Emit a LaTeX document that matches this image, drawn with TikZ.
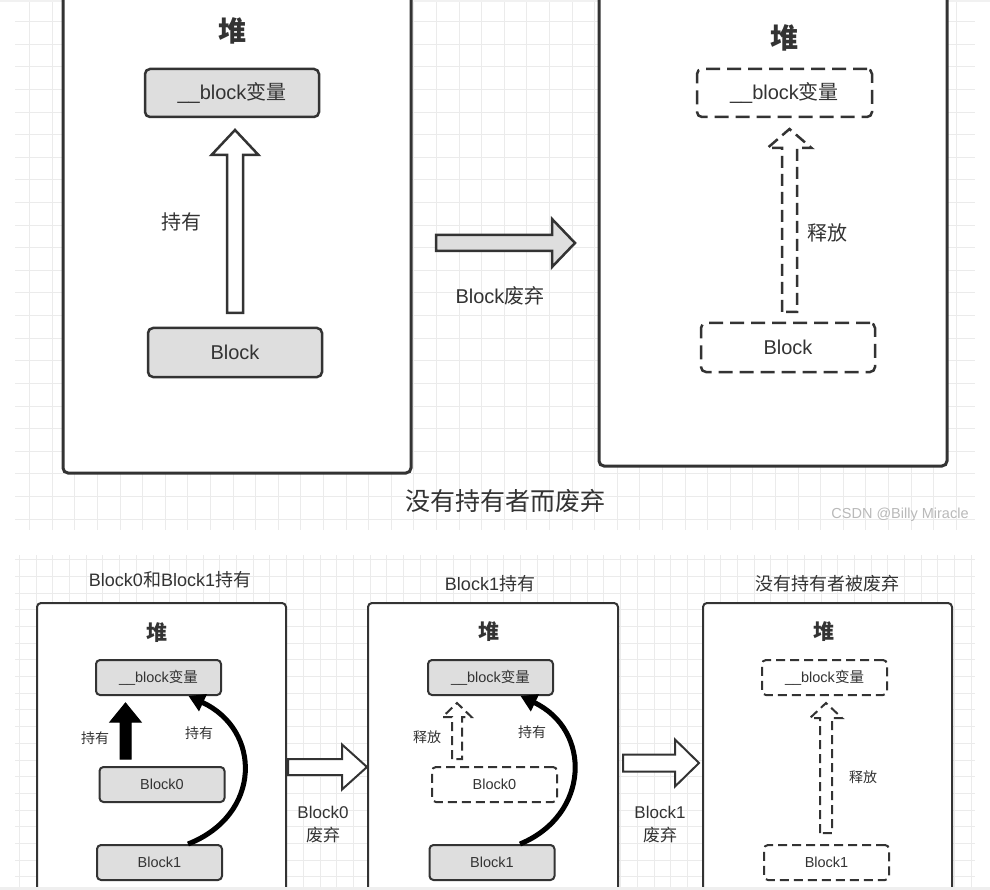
\documentclass[tikz,border=0pt]{standalone}
\usepackage{fontspec}
\setmainfont{Liberation Sans}
\newfontfamily\cjk{Noto Sans CJK SC}
\usetikzlibrary{arrows.meta}
\definecolor{ink}{HTML}{333333}
\definecolor{boxfill}{HTML}{DEDEDE}
\definecolor{gridc}{HTML}{EBEBEB}
\newcommand\zh[1]{{\cjk #1}}
\newcommand\fsz[1]{\fontsize{#1}{#1}\selectfont}
\newcommand\myuparr[7]{\draw[#1] ({#2-#6},#3) -- ({#2-#6},#4) -- ({#2-#7},#4) -- (#2,#5) -- ({#2+#7},#4) -- ({#2+#6},#4) -- ({#2+#6},#3) -- cycle;}
\newcommand\myrightarr[7]{\draw[#1] (#2,{#5-#6}) -- (#3,{#5-#6}) -- (#3,{#5-#7}) -- (#4,#5) -- (#3,{#5+#7}) -- (#3,{#5+#6}) -- (#2,{#5+#6}) -- cycle;}
\begin{document}
\begin{tikzpicture}[x=1pt,y=-1pt,
  box/.style={draw=ink, fill=boxfill, rounded corners=5pt, line width=2.5pt, text=ink, inner sep=0pt, font=\fsz{20}},
  dbox/.style={box, fill=white, dash pattern=on 14pt off 7pt},
  sbox/.style={draw=ink, fill=boxfill, rounded corners=4pt, line width=2pt, text=ink, inner sep=0pt, minimum width=125pt, minimum height=35pt, font=\fsz{14.5}},
  sdbox/.style={sbox, fill=white, dash pattern=on 9pt off 5pt},
  lbl/.style={text=ink, inner sep=0pt},
  heap/.style={lbl, font=\cjk\bfseries\fsz{#1}},
  heapframe/.style={draw=ink, fill=white, rounded corners=#1},
  gridline/.style={draw=gridc, line width=1pt},
]
\useasboundingbox (0,0) rectangle (990,890);
\fill[white] (0,0) rectangle (990,890);
% grids
\foreach \k in {1,...,42} \draw[gridline] ({7+22.6*\k},0) -- ({7+22.6*\k},530);
\foreach \k in {1,...,23} \draw[gridline] (15,{-0.8+22.6*\k}) -- (975,{-0.8+22.6*\k});
\foreach \k in {0,...,57} \draw[gridline] ({19.4+16.7*\k},555) -- ({19.4+16.7*\k},887);
\foreach \k in {0,...,19} \draw[gridline] (15,{559.6+16.7*\k}) -- (975,{559.6+16.7*\k});
\fill[gridc!70] (0,0) rectangle (990,2.5);

% ---------- top ----------
\filldraw[heapframe=5pt, line width=3pt] (63,-5) -- (63,473) -- (411,473) -- (411,-5);
\filldraw[heapframe=5pt, line width=3pt] (599,-5) -- (599,466) -- (947,466) -- (947,-5);

\node[heap=28] (heapA) at (232,31) {堆};
\node[box, minimum width=174pt, minimum height=48pt] (varA) at (232,93) {\_\_block\zh{变量}};
\node[box, minimum width=174pt, minimum height=49pt] (blkA) at (235,352.5) {Block};
\myuparr{draw=ink, fill=white, line width=2.5pt}{235}{313}{155}{130}{8}{23.5}
\node[lbl, font=\cjk\fsz{20}] (holdA) at (181,222) {持有};

\myrightarr{draw=ink, fill=boxfill, line width=2.5pt}{436}{552}{575}{243}{8}{24}
\node[lbl, font=\fsz{20}] (abandon) at (500,296) {Block\zh{废弃}};

\node[heap=28] (heapB) at (784,38) {堆};
\node[dbox, minimum width=175pt, minimum height=48pt] (varB) at (784.5,93) {\_\_block\zh{变量}};
\node[dbox, minimum width=174pt, minimum height=49pt] (blkB) at (788,347.5) {Block};
\myuparr{draw=ink, fill=white, line width=2.5pt, dash pattern=on 12pt off 6pt}{789.5}{312}{148}{129}{7.5}{22}
\node[lbl, font=\cjk\fsz{20}] (relB) at (827,233) {释放};

\node[lbl, font=\cjk\fsz{25}] (captionTop) at (505,501) {没有持有者而废弃};
\node[text=gray!55, inner sep=0pt, font=\fsz{14.5}] (wm) at (900,515) {CSDN @Billy Miracle};

% ---------- bottom ----------
\filldraw[heapframe=4pt, line width=2pt] (37,892) -- (37,603) -- (286,603) -- (286,892);
\filldraw[heapframe=4pt, line width=2pt] (368,892) -- (368,603) -- (618,603) -- (618,892);
\filldraw[heapframe=4pt, line width=2pt] (703,892) -- (703,603) -- (952,603) -- (952,892);

\node[lbl, font=\fsz{18}] (t1) at (170,580) {Block0\zh{和}Block1\zh{持有}};
\node[lbl, font=\fsz{18}] (t2) at (490,584) {Block1\zh{持有}};
\node[lbl, font=\cjk\fsz{18}] (t3) at (827,584) {没有持有者被废弃};

\node[heap=21] (h1) at (157,633) {堆};
\node[heap=21] (h2) at (489,632) {堆};
\node[heap=21] (h3) at (824,632) {堆};

% panel 1
\node[sbox] (v1) at (158.5,677.5) {\_\_block\zh{变量}};
\node[sbox] (b01) at (162,784.5) {Block0};
\node[sbox] (b11) at (159.5,862.5) {Block1};
\myuparr{draw=black, fill=black, line width=1pt}{125.5}{759}{722}{703}{5.5}{15.5}
\node[lbl, font=\cjk\fsz{14}] (p1a) at (95,738) {持有};
\node[lbl, font=\cjk\fsz{14}] (p1b) at (199,733) {持有};
\draw[black, line width=5pt, -{Triangle[length=16pt,width=18pt]}] ([xshift=28.5pt]b11.north) .. controls (262,815) and (262,730) .. ([xshift=30pt]v1.south);

\myrightarr{draw=ink, fill=white, line width=2pt}{288}{342}{367}{767}{8}{22.5}
\node[lbl, font=\fsz{17}] (a1a) at (323,812) {Block0};
\node[lbl, font=\cjk\fsz{17}] (a1b) at (323,835) {废弃};

% panel 2
\node[sbox] (v2) at (490.5,677.5) {\_\_block\zh{变量}};
\node[sdbox] (b02) at (494.5,784.5) {Block0};
\node[sbox] (b12) at (492,862.5) {Block1};
\myuparr{draw=ink, fill=white, line width=2pt, dash pattern=on 9pt off 5pt}{457}{759}{717}{703}{5}{14.5}
\node[lbl, font=\cjk\fsz{14}] (p2a) at (427,737) {释放};
\node[lbl, font=\cjk\fsz{14}] (p2b) at (532,732) {持有};
\draw[black, line width=5pt, -{Triangle[length=16pt,width=18pt]}] ([xshift=28pt]b12.north) .. controls (590,815) and (592,730) .. ([xshift=30pt]v2.south);

\myrightarr{draw=ink, fill=white, line width=2pt}{623}{675}{699}{763}{8.5}{23.5}
\node[lbl, font=\fsz{17}] (a2a) at (660,812) {Block1};
\node[lbl, font=\cjk\fsz{17}] (a2b) at (660,835) {废弃};

% panel 3
\node[sdbox] (v3) at (824.5,677.5) {\_\_block\zh{变量}};
\node[sdbox] (b13) at (826.5,862.5) {Block1};
\myuparr{draw=ink, fill=white, line width=2pt, dash pattern=on 9pt off 5pt}{826}{833}{718}{703}{6}{16}
\node[lbl, font=\cjk\fsz{14}] (p3a) at (863,777) {释放};

\fill[gridc!80] (0,887) rectangle (990,890);
\end{tikzpicture}
\end{document}
